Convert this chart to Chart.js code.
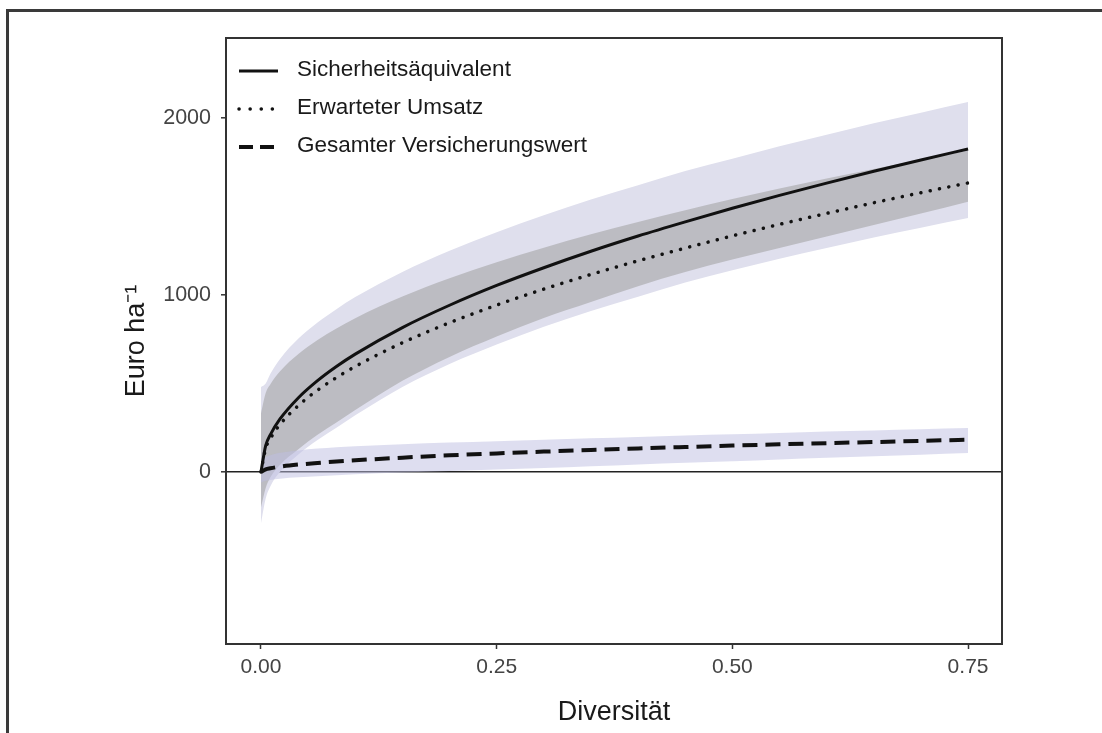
<!DOCTYPE html>
<html lang="de">
<head>
<meta charset="utf-8">
<title>Diversität</title>
<script src="https://cdn.jsdelivr.net/npm/chart.js@4.4.1/dist/chart.umd.min.js"></script>
<style>
  html, body { margin: 0; padding: 0; background: #fff; }
  #wrap { position: relative; width: 1102px; height: 733px; overflow: hidden; }
  #rahmen { position: absolute; left: 6px; top: 9px; width: 1200px; height: 800px;
            border-left: 3px solid #3a3a3a; border-top: 3px solid #3a3a3a; pointer-events: none; }
  canvas { position: absolute; left: 0; top: 0; }
</style>
</head>
<body>
<div id="wrap">
  <div id="rahmen"></div>
  <canvas id="grafik" width="1102" height="733"></canvas>
</div>
<script>
// Werte
const diversitaet = [0, 0.005, 0.01, 0.02, 0.04, 0.06, 0.08, 0.1, 0.15, 0.2, 0.25, 0.3, 0.35, 0.4, 0.45, 0.5, 0.55, 0.6, 0.65, 0.7, 0.75];

const sicherheit  = [0, 149, 211, 298, 421, 516, 596, 666, 816, 942, 1054, 1154, 1247, 1333, 1413, 1490, 1563, 1632, 1699, 1763, 1825];
const umsatz      = [0, 133, 189, 267, 377, 462, 533, 596, 730, 843, 943, 1033, 1116, 1193, 1265, 1334, 1399, 1461, 1521, 1578, 1633];
const versicherung = [0, 15, 21, 30, 42, 51, 59, 66, 81, 94, 105, 115, 124, 133, 141, 149, 156, 163, 169, 176, 182];

// Bänder
const aussenOben  = [480, 500, 555, 637, 755, 845, 920, 988, 1130, 1250, 1355, 1450, 1540, 1620, 1700, 1770, 1840, 1905, 1970, 2030, 2090];
const aussenUnten = [-290, -150, -80, 0, 100, 180, 250, 320, 480, 610, 720, 820, 910, 990, 1070, 1140, 1205, 1265, 1325, 1380, 1435];
const grauOben    = [330, 446, 496, 568, 668, 746, 811, 869, 991, 1094, 1185, 1267, 1343, 1413, 1479, 1542, 1601, 1658, 1712, 1765, 1815];
const grauUnten   = [-200, -90, -30, 40, 130, 210, 280, 350, 515, 650, 765, 870, 960, 1050, 1130, 1200, 1265, 1330, 1395, 1460, 1527];
const versOben    = [60, 85, 95, 108, 122, 132, 140, 146, 157, 166, 174, 182, 190, 198, 206, 213, 220, 228, 235, 242, 249];
const versUnten   = [-60, -50, -45, -38, -30, -24, -18, -13, -3, 6, 14, 22, 32, 42, 52, 60, 70, 80, 89, 98, 107];

const namen = ['Sicherheitsäquivalent', 'Erwarteter Umsatz', 'Gesamter Versicherungswert'];
const xTicks = [0, 0.25, 0.5, 0.75];
const xTickLabels = ['0.00', '0.25', '0.50', '0.75'];
const yTicks = [0, 1000, 2000];

function punkte(werte) {
    return diversitaet.map((x, i) => ({ x: x, y: werte[i] }));
}

function linie(label, werte, dash, breite, cap, legendDash) {
    return {
        label: label,
        data: punkte(werte),
        borderColor: '#111',
        borderWidth: breite,
        borderDash: dash,
        borderCapStyle: cap,
        legendDash: legendDash,
        pointRadius: 0,
        cubicInterpolationMode: 'monotone',
        fill: false
    };
}

function band(werte, farbe, ziel) {
    return {
        data: punkte(werte),
        borderWidth: 0,
        borderColor: 'rgba(0,0,0,0)',
        backgroundColor: farbe,
        pointRadius: 0,
        cubicInterpolationMode: 'monotone',
        fill: ziel === null ? false : ziel
    };
}

const schrift = '"Liberation Sans", Arial, sans-serif';

// Rahmen um die Zeichenfläche und Legende oben links
const rahmenPlugin = {
    id: 'rahmenLegende',
    afterDraw(chart) {
        const { ctx, chartArea: a } = chart;
        ctx.save();
        ctx.strokeStyle = '#333';
        ctx.lineWidth = 2;
        ctx.strokeRect(a.left, a.top, a.right - a.left, a.bottom - a.top);

        ctx.font = '22.5px ' + schrift;
        ctx.textBaseline = 'middle';
        ctx.fillStyle = '#1a1a1a';
        chart.data.datasets.slice(0, 3).forEach((ds, i) => {
            const y = a.top + 33 + i * 38;
            ctx.beginPath();
            ctx.setLineDash(ds.legendDash);
            ctx.lineCap = ds.borderCapStyle;
            ctx.lineWidth = ds.borderWidth;
            ctx.strokeStyle = '#111';
            ctx.moveTo(a.left + 13, y);
            ctx.lineTo(a.left + 52, y);
            ctx.stroke();
            ctx.fillText(ds.label, a.left + 71, y - 1.5);
        });
        ctx.restore();
    }
};

const ctx = document.getElementById('grafik').getContext('2d');
const grafik = new Chart(ctx, {
    type: 'line',
    data: {
        datasets: [
            linie(namen[0], sicherheit, [], 3, 'butt', []),
            linie(namen[1], umsatz, [0.1, 9.4], 3.5, 'round', [0.1, 11]),
            linie(namen[2], versicherung, [15, 8], 4, 'butt', [14, 7]),
            band(versOben, 'rgba(190,190,225,0.5)', 4),
            band(versUnten, 'rgba(0,0,0,0)', null),
            band(grauOben, '#bcbcc2', 6),
            band(grauUnten, 'rgba(0,0,0,0)', null),
            band(aussenOben, '#dfdfed', 8),
            band(aussenUnten, 'rgba(0,0,0,0)', null)
        ]
    },
    options: {
        responsive: false,
        animation: false,
        layout: { padding: { left: 120, right: 100, top: 38, bottom: 4 } },
        plugins: {
            legend: { display: false },
            tooltip: { enabled: false }
        },
        scales: {
            x: {
                type: 'linear',
                min: -0.0371,
                max: 0.786,
                afterBuildTicks: s => { s.ticks = xTicks.map(v => ({ value: v })); },
                afterFit: s => { s.height = 85; },
                ticks: {
                    font: { family: schrift, size: 21 },
                    color: '#444',
                    padding: 6,
                    maxRotation: 0,
                    callback: (v) => xTickLabels[xTicks.indexOf(v)]
                },
                grid: { drawOnChartArea: false, tickLength: 5, tickColor: '#333', tickWidth: 1.5 },
                border: { color: '#333', width: 2 },
                title: {
                    display: true,
                    text: 'Diversität',
                    font: { family: schrift, size: 27 },
                    color: '#1a1a1a',
                    padding: { top: 0, bottom: 0 }
                }
            },
            y: {
                type: 'linear',
                min: -972,
                max: 2452,
                afterBuildTicks: s => { s.ticks = yTicks.map(v => ({ value: v })); },
                afterFit: s => { s.width = 106; },
                ticks: {
                    font: { family: schrift, size: 21.5 },
                    color: '#444',
                    padding: 10,
                    callback: (v) => String(v)
                },
                grid: {
                    color: c => (c.tick && c.tick.value === 0) ? '#222' : 'rgba(0,0,0,0)',
                    lineWidth: 1.6,
                    tickLength: 5,
                    tickColor: '#333',
                    tickWidth: 1.5
                },
                border: { color: '#333', width: 2 },
                title: {
                    display: true,
                    text: 'Euro ha⁻¹',
                    font: { family: schrift, size: 27 },
                    color: '#1a1a1a',
                    padding: { top: 0, bottom: 0 }
                }
            }
        }
    },
    plugins: [rahmenPlugin]
});
</script>
</body>
</html>
